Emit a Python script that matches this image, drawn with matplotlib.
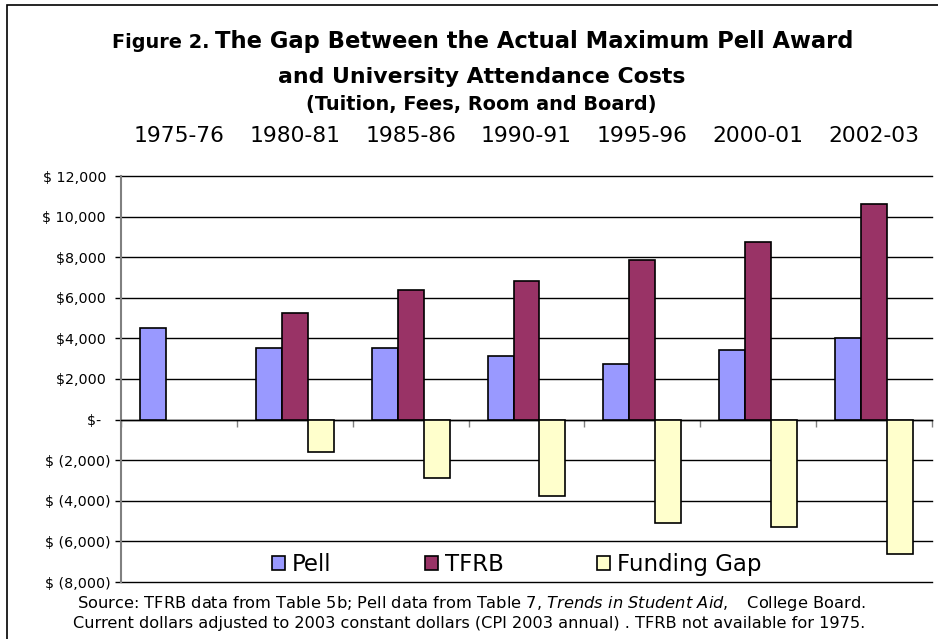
import matplotlib
matplotlib.use("Agg")
import matplotlib.pyplot as plt
import numpy as np
from matplotlib.patches import Rectangle
from matplotlib.transforms import blended_transform_factory

# ---- data ----
years = ["1975-76", "1980-81", "1985-86", "1990-91", "1995-96", "2000-01", "2002-03"]
pell = [4510, 3520, 3520, 3110, 2740, 3430, 4020]
tfrb = [np.nan, 5230, 6390, 6850, 7850, 8740, 10620]
gap = [np.nan, -1580, -2860, -3740, -5110, -5310, -6610]
series_names = ["Pell", "TFRB", "Funding Gap"]
yticks = [12000, 10000, 8000, 6000, 4000, 2000, 0, -2000, -4000, -6000, -8000]
ytick_labels = ["$ 12,000 ", "$ 10,000 ", "$8,000 ", "$6,000 ", "$4,000 ", "$2,000 ", "$-  ",
                "$ (2,000)", "$ (4,000)", "$ (6,000)", "$ (8,000)"]
colors = ["#9999FF", "#993366", "#FFFFCC"]

W, H = 938, 639
fig = plt.figure(figsize=(W / 100, H / 100), dpi=100)
plt.rcParams['font.family'] = ['DejaVu Sans']
plt.rcParams['mathtext.fontset'] = 'dejavusans'

ax = fig.add_axes([121 / W, 1 - 582 / H, (932 - 121) / W, (582 - 176) / H])

x = np.arange(len(years)) + 0.5
bw = 0.224
for i, (vals, c) in enumerate(zip([pell, tfrb, gap], colors)):
    ax.bar(x + (i - 1) * bw, vals, width=bw, color=c, edgecolor="black",
           linewidth=1.2, zorder=3, label=series_names[i])

ax.set_xlim(0, len(years))
ax.set_ylim(-8000, 12000)
ax.set_yticks(yticks)
ax.set_yticklabels(ytick_labels, fontsize=10.3)
ax.yaxis.grid(True, color="black", linewidth=1.0, zorder=1)
for gl in ax.get_ygridlines():
    gl.set_clip_on(False)
ax.tick_params(axis="y", direction="out", length=4.5, width=1.0, color="black", pad=3)

ax.set_xticks(np.arange(len(years) + 1))
ax.set_xticklabels([])
ax.tick_params(axis="x", direction="out", length=5, width=1.0, color="#808080")
ax.spines["bottom"].set_position(("data", 0))
ax.spines["bottom"].set_color("black")
ax.spines["bottom"].set_linewidth(1.0)
ax.spines["top"].set_visible(False)
ax.spines["right"].set_visible(False)
ax.spines["left"].set_color("#808080")
ax.spines["left"].set_linewidth(1.5)
ax.set_axisbelow(True)

leg = ax.legend(loc="center", bbox_to_anchor=(0.488, 0.042), ncol=3, frameon=False,
                fontsize=16.5, handlelength=0.55, handleheight=0.55, handletextpad=0.3,
                columnspacing=4.1, borderpad=0)
for h in leg.legend_handles:
    h.set_edgecolor("black")
    h.set_linewidth(1.2)

fig.canvas.draw()
renderer = fig.canvas.get_renderer()


def fitted(xp, yp, s, target_w, size, ha="left", **kw):
    t = fig.text(xp / W, 1 - yp / H, s, fontsize=size, ha=ha, va="baseline", **kw)
    w = t.get_window_extent(renderer).width
    t.set_fontsize(size * target_w / w)
    return t


fitted(112, 48, "Figure 2.", 97, 12, fontweight="bold")
fitted(215, 48, "The Gap Between the Actual Maximum Pell Award", 638, 15, fontweight="bold")
fitted(481.5, 82.7, "and University Attendance Costs", 407, 15, ha="center", fontweight="bold")
fitted(481, 110, "(Tuition, Fees, Room and Board)", 348, 12, ha="center", fontweight="bold")

trans = blended_transform_factory(ax.transData, fig.transFigure)
for xi, yr in zip(x, years):
    ax.text(xi, 1 - 142 / H, yr, transform=trans, ha="center", va="baseline",
            fontsize=15.7, clip_on=False)

fitted(77, 608, r"Source: TFRB data from Table 5b; Pell data from Table 7, $\it{Trends\ in\ Student\ Aid,}$   College Board.",
       790, 10)
fitted(73, 628, "Current dollars adjusted to 2003 constant dollars (CPI 2003 annual) . TFRB not available for 1975.",
       792, 10)

# frame
fig.patches.append(Rectangle((7 / W, -0.05), 1.0, 1 - 5 / H + 0.05, transform=fig.transFigure,
                             fill=False, edgecolor="black", linewidth=1.2))

fig.savefig("out.png", dpi=100)
